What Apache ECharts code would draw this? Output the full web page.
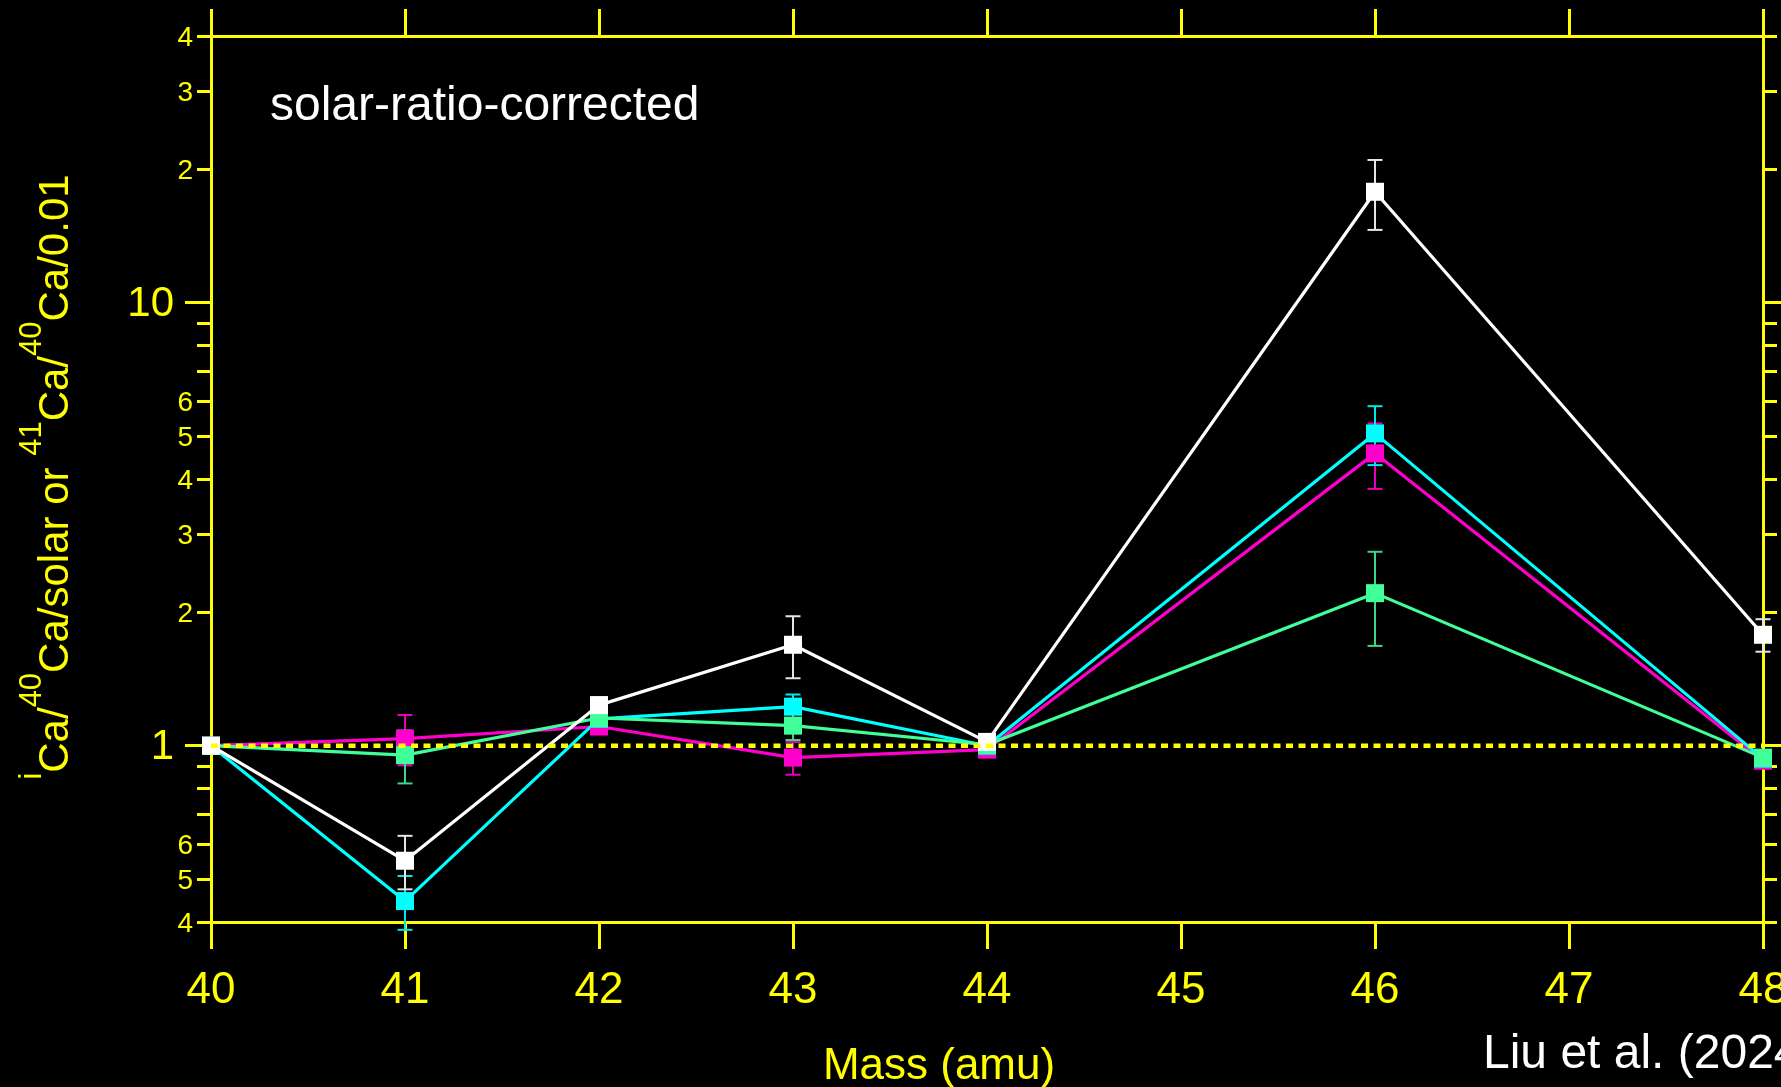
<!DOCTYPE html>
<html>
<head>
<meta charset="utf-8">
<title>Ca isotope ratios vs mass</title>
<script src="https://cdn.jsdelivr.net/npm/echarts@6/dist/echarts.min.js"></script>
<style>
  html, body { margin: 0; padding: 0; background: #000; }
  #chart { width: 1781px; height: 1087px; }
</style>
</head>
<body>
<div id="chart"></div>
<script>
// Isotope masses (amu) at which ratios were measured
const masses = [40, 41, 42, 43, 44, 46, 48];

// Solar-ratio-corrected iCa/40Ca (41Ca/40Ca/0.01 at mass 41) and 1-sigma errors
const whiteRatio   = [1.00, 0.550, 1.235, 1.690, 1.020, 17.80, 1.780];
const whiteErr     = [0,    0.076, 0.050, 0.270, 0.030, 3.20,  0.150];
const cyanRatio    = [1.00, 0.446, 1.150, 1.225, 1.000, 5.07,  0.935];
const cyanErr      = [0,    0.062, 0.040, 0.080, 0.030, 0.77,  0.040];
const magentaRatio = [1.00, 1.038, 1.105, 0.940, 0.980, 4.57,  0.925];
const magentaErr   = [0,    0.135, 0.030, 0.080, 0.030, 0.77,  0.030];
const greenRatio   = [1.00, 0.952, 1.155, 1.110, 1.005, 2.21,  0.940];
const greenErr     = [0,    0.130, 0.030, 0.080, 0.030, 0.53,  0.030];

// Solar reference level
const unityRatio = 1;

// Log-axis tick positions and labels
const ratioMinorTicks = [0.4, 0.5, 0.6, 0.7, 0.8, 0.9, 2, 3, 4, 5, 6, 7, 8, 9, 20, 30, 40];
const ratioMajorTicks = [1, 10];
const ratioSmallLabels = [0.4, 0.5, 0.6, 2, 3, 4, 5, 6, 20, 30, 40];

const FONT = '"Liberation Sans", Arial, Helvetica, sans-serif';
const YELLOW = '#FFFF00';

const COLORS = {
  white:   { line: '#FFFFFF', err: '#E6E6E6' },
  cyan:    { line: '#00FFFF', err: '#00E8E8' },
  magenta: { line: '#FF00CC', err: '#E800B8' },
  green:   { line: '#40FF99', err: '#36D98A' }
};

// label shows only the leading digit of each decade value (e.g. 30 -> "3")
function leadingDigit(v) {
  const e = Math.floor(Math.log10(v) + 1e-9);
  return '{t|' + Math.round(v / Math.pow(10, e)) + '}';
}
function wholeNumber(v) {
  return '{t|' + Math.round(v) + '}';
}

function ratioAxis(position, tickValues, tickLength, labelValues, labelSize, margin, formatter) {
  return {
    type: 'log',
    logBase: 10,
    min: 0.4,
    max: 40,
    position: position,
    axisLine: { show: true, onZero: false, lineStyle: { color: YELLOW, width: 3 } },
    axisTick: {
      show: true, inside: false, customValues: tickValues, length: tickLength,
      lineStyle: { color: YELLOW, width: 3 }
    },
    axisLabel: labelValues ? {
      show: true, customValues: labelValues, fontSize: labelSize, margin: margin,
      color: YELLOW, fontFamily: FONT, formatter: formatter,
      rich: { t: { fontSize: labelSize, fontFamily: FONT, color: YELLOW, padding: [4, 0, 0, 0] } }
    } : { show: false },
    splitLine: { show: false },
    minorTick: { show: false },
    minorSplitLine: { show: false }
  };
}

function massAxis(position, showLabels) {
  return {
    type: 'value',
    min: 40,
    max: 48,
    interval: 1,
    position: position,
    axisLine: { show: true, onZero: false, lineStyle: { color: YELLOW, width: 3 } },
    axisTick: { show: true, inside: false, length: 27, lineStyle: { color: YELLOW, width: 3 } },
    axisLabel: showLabels ? {
      show: true, fontSize: 44, margin: 47, color: YELLOW, fontFamily: FONT
    } : { show: false },
    splitLine: { show: false }
  };
}

// vertical error bars with end caps
function errorSeries(name, ratio, err, color) {
  const data = [];
  masses.forEach((m, i) => {
    if (err[i] > 0) data.push([m, ratio[i] - err[i], ratio[i] + err[i]]);
  });
  return {
    type: 'custom',
    name: name,
    xAxisIndex: 0,
    yAxisIndex: 0,
    data: data,
    encode: { x: 0, y: [1, 2] },
    clip: false,
    silent: true,
    renderItem: function (params, api) {
      const x = api.value(0);
      const lo = api.coord([x, api.value(1)]);
      const hi = api.coord([x, api.value(2)]);
      const hw = 7.5;
      const st = { stroke: color, lineWidth: 2 };
      return {
        type: 'group',
        children: [
          { type: 'line', shape: { x1: lo[0], y1: lo[1], x2: hi[0], y2: hi[1] }, style: st },
          { type: 'line', shape: { x1: lo[0] - hw, y1: lo[1], x2: lo[0] + hw, y2: lo[1] }, style: st },
          { type: 'line', shape: { x1: hi[0] - hw, y1: hi[1], x2: hi[0] + hw, y2: hi[1] }, style: st }
        ]
      };
    }
  };
}

function ratioSeries(name, ratio, color) {
  return {
    type: 'line',
    name: name,
    xAxisIndex: 0,
    yAxisIndex: 0,
    data: masses.map((m, i) => [m, ratio[i]]),
    symbol: 'rect',
    symbolSize: 18,
    showSymbol: true,
    clip: false,
    lineStyle: { color: color, width: 3.2 },
    itemStyle: { color: color }
  };
}

const chart = echarts.init(document.getElementById('chart'), null, { renderer: 'canvas' });

chart.setOption({
  backgroundColor: '#000000',
  animation: false,
  grid: { left: 211, right: 18, top: 36, bottom: 165, containLabel: false, outerBoundsMode: 'none' },
  xAxis: [massAxis('bottom', true), massAxis('top', false)],
  yAxis: [
    ratioAxis('left', ratioMinorTicks, 14, ratioSmallLabels, 28, 18, leadingDigit),
    ratioAxis('left', ratioMajorTicks, 26, ratioMajorTicks, 42, 37, wholeNumber),
    ratioAxis('right', ratioMinorTicks, 14, null),
    ratioAxis('right', ratioMajorTicks, 26, null)
  ],
  series: [
    errorSeries('magenta-err', magentaRatio, magentaErr, COLORS.magenta.err),
    ratioSeries('magenta', magentaRatio, COLORS.magenta.line),
    errorSeries('cyan-err', cyanRatio, cyanErr, COLORS.cyan.err),
    ratioSeries('cyan', cyanRatio, COLORS.cyan.line),
    errorSeries('green-err', greenRatio, greenErr, COLORS.green.err),
    ratioSeries('green', greenRatio, COLORS.green.line),
    errorSeries('white-err', whiteRatio, whiteErr, COLORS.white.err),
    ratioSeries('white', whiteRatio, COLORS.white.line),
    {
      type: 'line',
      name: 'solar',
      xAxisIndex: 0,
      yAxisIndex: 0,
      data: [[masses[0], unityRatio], [masses[masses.length - 1], unityRatio]],
      symbol: 'none',
      silent: true,
      z: 5,
      lineStyle: { color: YELLOW, width: 4.5, type: [7, 5.5] }
    }
  ],
  graphic: [
    {
      type: 'text', x: 270, y: 107,
      style: { text: 'solar-ratio-corrected', fill: '#FFFFFF', fontSize: 48, fontFamily: FONT, align: 'left', verticalAlign: 'middle' }
    },
    {
      type: 'text', x: 1483, y: 1055,
      style: { text: 'Liu et al. (2024)', fill: '#FFFFFF', fontSize: 48, fontFamily: FONT, align: 'left', verticalAlign: 'middle' }
    },
    {
      type: 'text', x: 939, y: 1067,
      style: { text: 'Mass (amu)', fill: YELLOW, fontSize: 44, fontFamily: FONT, align: 'center', verticalAlign: 'middle' }
    },
    {
      type: 'text', x: 56, y: 477, rotation: Math.PI / 2,
      style: {
        text: '{s|i}{m|Ca/}{s|40}{m|Ca/solar or }{s|41}{m|Ca/}{s|40}{m|Ca/0.01}',
        fill: YELLOW,
        align: 'center',
        verticalAlign: 'middle',
        rich: {
          m: { fontSize: 42, fontFamily: FONT, fill: YELLOW },
          s: { fontSize: 31, fontFamily: FONT, fill: YELLOW, padding: [0, 0, 48, 0] }
        }
      }
    }
  ]
});
</script>
</body>
</html>
